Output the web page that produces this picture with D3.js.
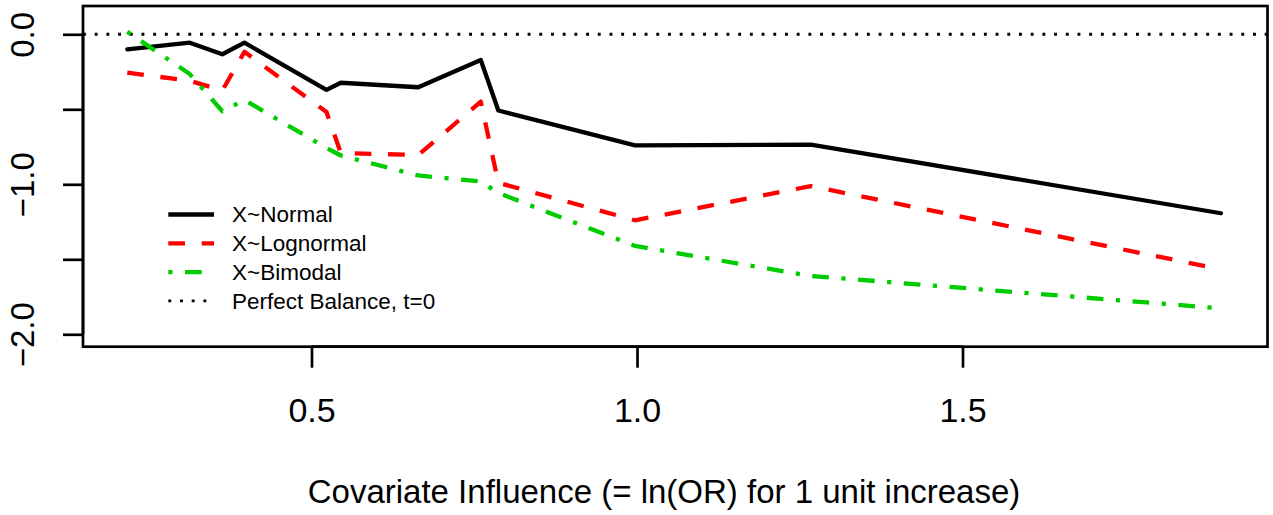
<!DOCTYPE html>
<html>
<head>
<meta charset="utf-8">
<script src="https://cdn.jsdelivr.net/npm/d3@7"></script>
<style>
  html, body { margin: 0; padding: 0; background: #fff; }
  svg { display: block; font-family: "Liberation Sans", Arial, sans-serif; }
</style>
</head>
<body>
<svg id="chart" width="1273" height="515"></svg>
<script>
// ---- data ----
const covariateInfluence = [0.217, 0.313, 0.363, 0.397, 0.523, 0.545, 0.664, 0.760, 0.787, 0.997, 1.267, 1.897];
const normalT    = [-0.100, -0.056, -0.133, -0.056, -0.371, -0.323, -0.353, -0.171, -0.508, -0.741, -0.735, -1.193];
const lognormalT = [-0.256, -0.310, -0.375, -0.117, -0.518, -0.791, -0.805, -0.449, -0.990, -1.240, -1.012, -1.567];
const bimodalT   = [0.017, -0.265, -0.513, -0.438, -0.758, -0.808, -0.941, -0.981, -1.058, -1.411, -1.611, -1.827];
const xTicks = [0.5, 1.0, 1.5];
const yTicks = [0.0, -0.5, -1.0, -1.5, -2.0];
const yTickLabels = ["0.0", "", "\u22121.0", "", "\u22122.0"];
const seriesNames = ["X~Normal", "X~Lognormal", "X~Bimodal"];
const balanceLabel = "Perfect Balance, t=0";
const xTitle = "Covariate Influence (= ln(OR) for 1 unit increase)";

// ---- layout ----
const svg = d3.select("#chart");
const pL = 83, pR = 1267.5, pT = 6, pB = 346.7;
const x = d3.scaleLinear().domain([0.149, 1.9685]).range([pL, pR]);
const y = d3.scaleLinear().domain([0.1887, -2.0827]).range([pT, pB]);

const series = [
  { name: seriesNames[0], values: normalT,    color: "#000000", dash: null },
  { name: seriesNames[1], values: lognormalT, color: "#ff0000", dash: "16.7 16.7" },
  { name: seriesNames[2], values: bimodalT,   color: "#00cd00", dash: "4.2 12.5 16.7 12.5" }
];
const lw = 4.3;

// reference line t = 0
svg.append("line")
  .attr("x1", pL).attr("x2", pR)
  .attr("y1", y(0)).attr("y2", y(0))
  .attr("stroke", "#000").attr("stroke-width", 2.9)
  .attr("stroke-dasharray", "2.9 8.8");

const line = d3.line().x(d => x(d[0])).y(d => y(d[1]));
series.forEach(s => {
  svg.append("path")
    .datum(covariateInfluence.map((v, i) => [v, s.values[i]]))
    .attr("d", line)
    .attr("fill", "none")
    .attr("stroke", s.color)
    .attr("stroke-width", lw)
    .attr("stroke-linejoin", "round")
    .attr("stroke-linecap", s.dash ? "butt" : "round")
    .attr("stroke-dasharray", s.dash);
});

// frame
svg.append("rect")
  .attr("x", pL).attr("y", pT)
  .attr("width", pR - pL).attr("height", pB - pT)
  .attr("fill", "none").attr("stroke", "#000").attr("stroke-width", 2.7);

// x axis
const xAxis = d3.axisBottom(x).tickValues(xTicks).tickFormat(d3.format(".1f"))
  .tickSize(21).tickSizeOuter(0).tickPadding(30);
const gx = svg.append("g").attr("transform", `translate(0,${pB})`).call(xAxis);
gx.select(".domain").attr("d", `M${x(xTicks[0])},0H${x(xTicks[xTicks.length-1])}`)
  .attr("stroke-width", 2.7);
gx.selectAll(".tick line").attr("stroke-width", 2.7);
gx.selectAll(".tick text").attr("font-size", 34).attr("font-family", "Liberation Sans, Arial, sans-serif")
  .attr("fill", "#000").attr("dy", "0.71em");

// y axis
const yAxis = d3.axisLeft(y).tickValues(yTicks)
  .tickFormat((d, i) => yTickLabels[i]).tickSize(20).tickSizeOuter(0).tickPadding(0);
const gy = svg.append("g").attr("transform", `translate(${pL},0)`).call(yAxis);
gy.select(".domain").attr("d", `M0,${y(yTicks[0])}V${y(yTicks[yTicks.length-1])}`)
  .attr("stroke-width", 2.7);
gy.selectAll(".tick line").attr("stroke-width", 2.7);
gy.selectAll(".tick text")
  .attr("font-size", 33).attr("font-family", "Liberation Sans, Arial, sans-serif")
  .attr("fill", "#000")
  .attr("x", null).attr("dy", null)
  .attr("text-anchor", "middle")
  .attr("transform", `translate(${34.3 - pL},0) rotate(-90)`);

// x title
svg.append("text")
  .attr("x", 664).attr("y", 503)
  .attr("text-anchor", "middle")
  .attr("font-size", 33)
  .text(xTitle);

// legend
const legendItems = series.map(s => ({ label: s.name, color: s.color, dash: s.dash, w: lw }))
  .concat([{ label: balanceLabel, color: "#000", dash: "2.9 8.8", w: 2.9 }]);
const legY0 = 214.5, legDY = 28.8;
const leg = svg.append("g");
legendItems.forEach((it, i) => {
  const yy = legY0 + i * legDY;
  leg.append("line")
    .attr("x1", 168.3).attr("x2", 214).attr("y1", yy).attr("y2", yy)
    .attr("stroke", it.color).attr("stroke-width", it.w)
    .attr("stroke-dasharray", it.dash)
    .attr("stroke-linecap", "butt");
  leg.append("text")
    .attr("x", 232).attr("y", yy)
    .attr("dy", "0.35em")
    .attr("font-size", 22.5)
    .text(it.label);
});
</script>
</body>
</html>
